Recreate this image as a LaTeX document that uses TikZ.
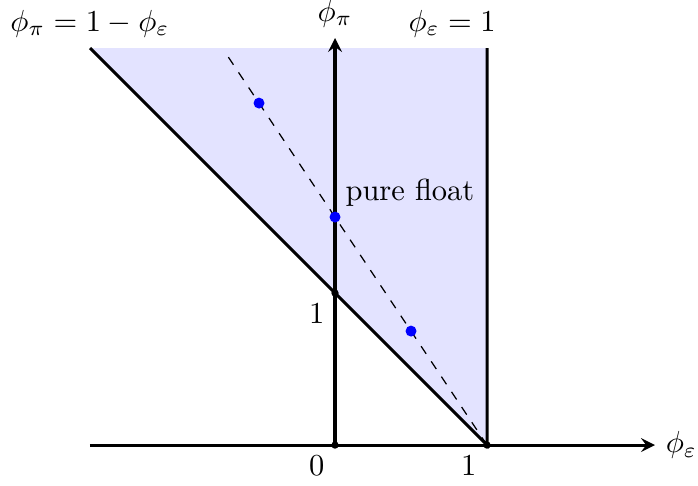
\documentclass[tikz,border=0pt]{standalone}
\usepackage{amsmath,amssymb}
\usepackage{tikz}
\usepackage{xcolor}

\begin{document}
\begin{tikzpicture}[x=1.753cm,y=1.753cm]
  \useasboundingbox (-2.204,-0.263) rectangle (2.388,2.928);
  \coordinate (O) at (0,0);
  \coordinate (E) at (1,0);
  \coordinate (U) at (0,1);
  \coordinate (L) at (-1.612,2.612);
  \coordinate (T) at (1,2.612);
  \coordinate (X0) at (-1.612,0);
  \coordinate (X1) at (2.105,0);
  \coordinate (Y1) at (0,2.678);
  \coordinate (D) at (-0.72,2.58);
  \fill[blue!11] (L)--(T)--(E)--cycle;
  \draw[dashed] (E)--(D);
  \draw[line width=1pt,->,>=stealth] (X0)--(X1);
  \draw[line width=1pt,->,>=stealth] (O)--(Y1);
  \draw[line width=1pt] (L)--(E)--(T);
  \fill (O) circle (1.2pt);
  \fill (E) circle (1.2pt);
  \fill (U) circle (1.2pt);
  \fill[blue] (-0.5,2.25) circle (1.8pt);
  \fill[blue] (0,1.5) circle (1.8pt);
  \fill[blue] (0.5,0.75) circle (1.8pt);
  \node[above] (lab1) at (L) {$\phi_\pi = 1-\phi_\varepsilon$};
  \node[above] (lab2) at (Y1) {$\phi_\pi$};
  \node[above] (lab3) at (0.77,2.612) {$\phi_\varepsilon = 1$};
  \node[right] (lab4) at (X1) {$\phi_\varepsilon$};
  \node (pf) at (0.493,1.658) {pure float};
  \node[below left] (one) at (U) {$1$};
  \node[below left] (zero) at (O) {$0$};
  \node[below left] (onex) at (E) {$1$};
\end{tikzpicture}
\end{document}
